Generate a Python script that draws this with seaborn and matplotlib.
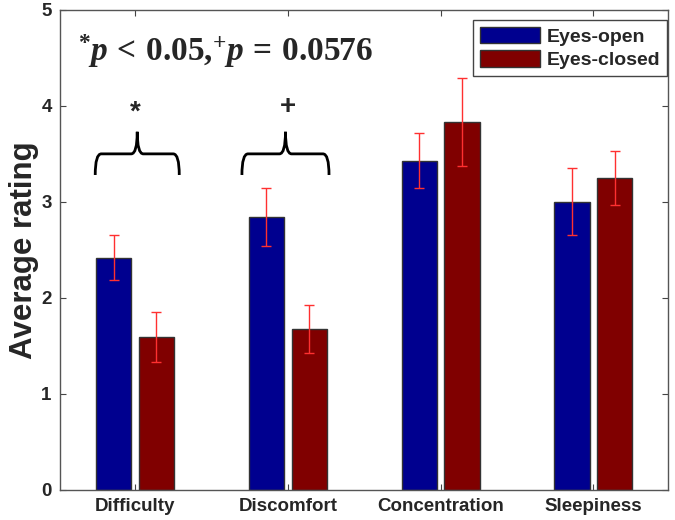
import matplotlib
matplotlib.use("Agg")
import matplotlib.pyplot as plt
from matplotlib.path import Path
from matplotlib.patches import PathPatch, Patch
import seaborn as sns
import pandas as pd

# values
categories = ["Difficulty", "Discomfort", "Concentration", "Sleepiness"]
conditions = ["Eyes-open", "Eyes-closed"]
eyes_open = [2.42, 2.84, 3.43, 3.00]
eyes_closed = [1.59, 1.68, 3.83, 3.25]
err_open = [0.23, 0.30, 0.29, 0.35]
err_closed = [0.26, 0.25, 0.46, 0.28]
colors = ["#00008F", "#800000"]

df = pd.DataFrame({
    "category": categories * 2,
    "condition": [conditions[0]] * 4 + [conditions[1]] * 4,
    "rating": eyes_open + eyes_closed,
})

sns.set_style("ticks")
plt.rcParams["font.family"] = ["Liberation Sans", "DejaVu Sans"]
plt.rcParams["mathtext.fontset"] = "custom"
plt.rcParams["mathtext.rm"] = "Liberation Serif:bold"
plt.rcParams["mathtext.it"] = "Liberation Serif:bold:italic"
plt.rcParams["mathtext.bf"] = "Liberation Serif:bold"

fig = plt.figure(figsize=(6.75, 5.2), dpi=100)
ax = fig.add_axes([0.089, 0.058, 0.901, 0.923])

sns.barplot(data=df, x="category", y="rating", hue="condition",
            palette=colors, width=0.56, gap=0.18, edgecolor="#333333",
            linewidth=1.0, saturation=1, errorbar=None, ax=ax, legend=False)

# error bars
for cont, errs in zip(ax.containers, [err_open, err_closed]):
    for bar, e in zip(cont, errs):
        xc = bar.get_x() + bar.get_width() / 2
        ax.errorbar(xc, bar.get_height(), yerr=e, color="#ff3030",
                    elinewidth=1.0, capsize=3.5, capthick=1.0, zorder=5)


def brace(ax, x0, x1, y_low, y_mid, y_tip):
    xc = (x0 + x1) / 2
    r = 0.04
    verts = [(x0, y_low), (x0, y_mid), (x0 + r, y_mid),
             (xc - r, y_mid), (xc, y_mid), (xc, y_tip),
             (xc, y_mid), (xc + r, y_mid),
             (x1 - r, y_mid), (x1, y_mid), (x1, y_low)]
    codes = [Path.MOVETO, Path.CURVE3, Path.CURVE3,
             Path.LINETO, Path.CURVE3, Path.CURVE3,
             Path.CURVE3, Path.CURVE3,
             Path.LINETO, Path.CURVE3, Path.CURVE3]
    ax.add_patch(PathPatch(Path(verts, codes), fill=False, lw=2.0,
                           edgecolor="black", zorder=6))


brace(ax, -0.26, 0.29, 3.28, 3.50, 3.73)
brace(ax, 0.70, 1.27, 3.28, 3.50, 3.73)
ax.text(0.0, 3.93, "*", ha="center", va="center", fontsize=20, fontweight="bold")
ax.text(1.0, 3.99, "+", ha="center", va="center", fontsize=20, fontweight="bold")

ax.text(0.59, 4.57, r"$^{*}p\,<\,0.05{,}^{+}p\,=\,0.0576$",
        ha="center", va="center", fontsize=24)

ax.set_xlim(-0.49, 3.49)
ax.set_ylim(0, 5)
ax.set_yticks([0, 1, 2, 3, 4, 5])
ax.set_xlabel("")
ax.set_ylabel("Average rating", fontsize=22.5, fontweight="bold", labelpad=2)
for lab in ax.get_xticklabels() + ax.get_yticklabels():
    lab.set_fontweight("bold")
    lab.set_fontsize(13.5)
ax.tick_params(direction="in", length=4, width=0.8, color="#444444",
               top=True, right=True, pad=6)
for sp in ax.spines.values():
    sp.set_visible(True)
    sp.set_color("#555555")
    sp.set_linewidth(1.0)

handles = [Patch(facecolor=c, edgecolor="#333333", label=l)
           for c, l in zip(colors, conditions)]
leg = ax.legend(handles=handles, loc="upper right", bbox_to_anchor=(0.998, 0.979),
                borderaxespad=0, fancybox=False, framealpha=1, edgecolor="#444444",
                handlelength=3.1, handleheight=0.9, handletextpad=0.35,
                labelspacing=0.25, borderpad=0.35,
                prop={"weight": "bold", "size": 14})
leg.get_frame().set_linewidth(1.0)

fig.savefig("out.png", dpi=100)
